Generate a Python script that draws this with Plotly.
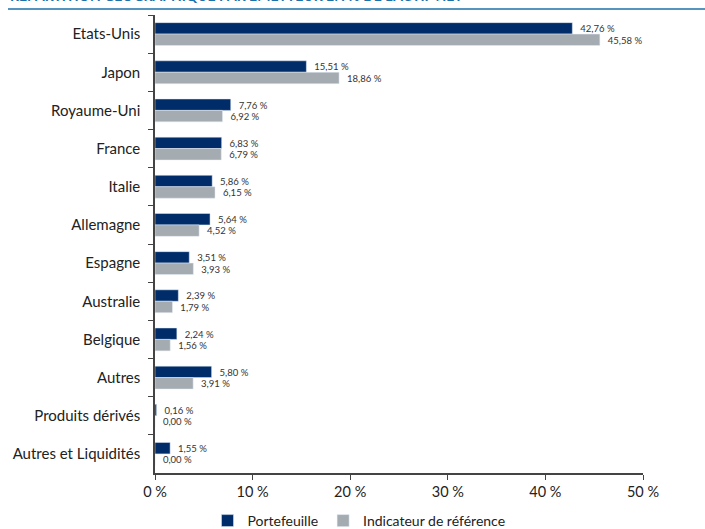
import plotly.graph_objects as go

categories = ["Etats-Unis", "Japon", "Royaume-Uni", "France", "Italie", "Allemagne",
              "Espagne", "Australie", "Belgique", "Autres", "Produits dérivés",
              "Autres et Liquidités"]
portefeuille = [42.76, 15.51, 7.76, 6.83, 5.86, 5.64, 3.51, 2.39, 2.24, 5.80, 0.16, 1.55]
indicateur = [45.58, 18.86, 6.92, 6.79, 6.15, 4.52, 3.93, 1.79, 1.56, 3.91, 0.00, 0.00]
x_ticks = [0, 10, 20, 30, 40, 50]
x_tick_labels = ["0 %", "10 %", "20 %", "30 %", "40 %", "50 %"]
title_text = "RÉPARTITION GÉOGRAPHIQUE PAR ÉMETTEUR EN % DE L'ACTIF NET"

def fmt(v):
    return "\u00a0\u00a0" + f"{v:.2f}".replace(".", ",") + " %"

FONT = "Lato"
L, R, T, B = 155, 62, 15, 56
W, H = 705, 529
pw = W - L - R
ph = H - T - B

fig = go.Figure()
fig.add_trace(go.Bar(
    y=categories, x=portefeuille, orientation="h", name="Portefeuille",
    marker=dict(color="#002d6a"), text=[fmt(v) for v in portefeuille],
    textposition="outside", textfont=dict(size=10, color="#333333", family=FONT),
    cliponaxis=False))
fig.add_trace(go.Bar(
    y=categories, x=indicateur, orientation="h", name="Indicateur de référence",
    marker=dict(color="#a4abb1"), text=[fmt(v) for v in indicateur],
    textposition="outside", textfont=dict(size=10, color="#333333", family=FONT),
    cliponaxis=False))

fig.update_layout(
    width=W, height=H,
    margin=dict(l=L, r=R, t=T, b=B, autoexpand=False),
    barmode="group", bargap=0.4, bargroupgap=0,
    plot_bgcolor="white", paper_bgcolor="white",
    font=dict(family=FONT, color="#222222", size=14),
    hovermode=False,
    legend=dict(orientation="h", x=0.5 - 40 / pw, xanchor="center", y=-48 / ph,
                yanchor="middle",
                font=dict(size=14, family=FONT, color="#222222"),
                itemwidth=30, traceorder="normal"),
    xaxis=dict(range=[0, 50], tickvals=x_ticks, ticktext=x_tick_labels,
               showgrid=False, zeroline=False, showline=True, linecolor="#444444",
               linewidth=1.5, ticks="outside", ticklen=5, tickcolor="#444444",
               automargin=False,
               tickfont=dict(size=14.5, family=FONT, color="#222222")),
    yaxis=dict(autorange="reversed", showgrid=False, showline=True,
               linecolor="#444444", linewidth=1.5, ticks="outside", ticklen=5,
               tickcolor="#444444", tickson="boundaries", automargin=False,
               ticklabelstandoff=10,
               tickfont=dict(size=15, family=FONT, color="#222222")),
)

fig.add_annotation(text="<b>" + title_text + "</b>", xref="paper", yref="paper",
                   x=(8 - L) / pw, xanchor="left", y=1 + (T - 6) / ph, yanchor="bottom",
                   showarrow=False, font=dict(size=14, color="#1a72a8", family=FONT))
fig.add_shape(type="line", xref="paper", yref="paper",
              x0=(8 - L) / pw, x1=(W - L) / pw, y0=1 + (T - 9) / ph, y1=1 + (T - 9) / ph,
              line=dict(color="#1a72a8", width=1.5))

fig.write_html("out.html", config={"displayModeBar": False},
               post_script="document.body.style.margin='0';document.body.style.overflow='hidden';")
